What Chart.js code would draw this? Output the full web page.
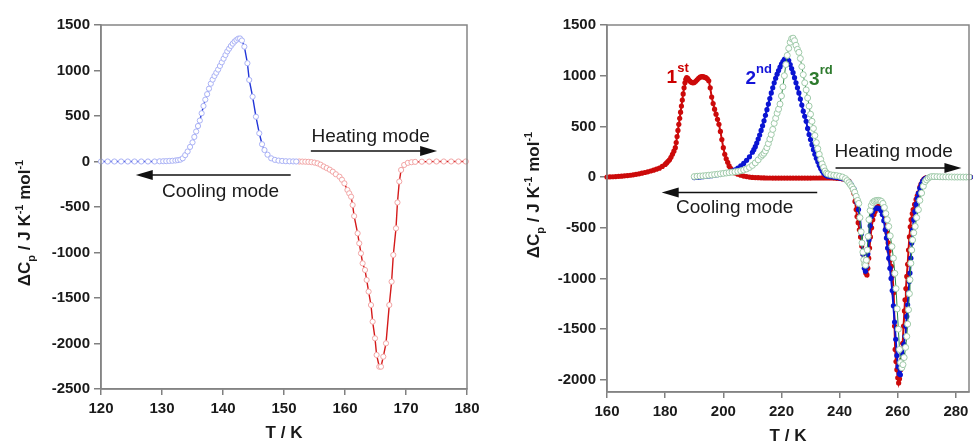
<!DOCTYPE html>
<html>
<head>
<meta charset="utf-8">
<script src="https://cdn.jsdelivr.net/npm/chart.js@4.4.1/dist/chart.umd.min.js"></script>
<style>
body { margin: 0; background: #fff; }
#wrap { position: relative; width: 974px; height: 445px; }
canvas { position: absolute; top: 0; }
</style>
</head>
<body>
<div id="wrap">
<canvas id="chart-left" width="487" height="445" style="left:0"></canvas>
<canvas id="chart-right" width="487" height="445" style="left:487px"></canvas>
</div>
<script>
var FONT = "'Liberation Sans', Arial, sans-serif";

// ---- left panel : cooling (blue) then heating (red)
var coolT = [120, 121.1, 122.2, 123.3, 124.4, 125.5, 126.6, 127.7, 128.8,
	129.6, 130.2, 130.7, 131.2, 131.7, 132.2, 132.6, 133.0,
	133.4, 133.8, 134.2, 134.6, 135.0,
	135.3, 135.6, 135.9, 136.2, 136.5, 136.8, 137.1, 137.4, 137.7, 138.0,
	138.3, 138.6, 138.9, 139.2, 139.5, 139.8, 140.1, 140.4, 140.7, 141.0,
	141.3, 141.6, 141.9, 142.2, 142.5, 142.8,
	143.1, 143.5, 144.0, 144.3, 144.85, 145.4, 145.95, 146.4, 146.8, 147.3, 147.9,
	148.5, 149.1, 149.7, 150.3, 150.9, 151.5, 152.0];
var coolCp = [0, 0, 0, 0, 0, 0, 0, 0, 0,
	2, 3, 4, 6, 8, 11, 15, 20,
	35, 70, 110, 160, 210,
	270, 330, 390, 450, 530, 610, 680, 740, 800, 855,
	900, 940, 975, 1010, 1050, 1090, 1130, 1170, 1210, 1240,
	1270, 1295, 1318, 1336, 1350, 1352,
	1330, 1262, 1080, 896, 712, 492, 310, 190, 126, 75, 35,
	18, 10, 6, 3, 2, 1, 0];

var heatT = [152.5, 153.0, 153.5, 154.0, 154.5,
	155.0, 155.5, 156.0, 156.5, 157.0, 157.5, 158.0, 158.5,
	159.1, 159.5, 159.9, 160.4, 160.7, 161.0, 161.25, 161.5,
	162.07, 162.34, 162.62, 162.89, 163.28, 163.55, 163.87, 164.26, 164.53, 164.92, 165.18, 165.62,
	165.9, 166.28, 166.72, 167.26, 167.64, 167.92, 168.36, 168.6, 168.9, 169.2, 169.7,
	170.3, 170.9, 171.5, 172.6, 173.8, 175.0, 176.2, 177.4, 178.6, 179.8];
var heatCp = [0, -1, -2, -4, -7,
	-12, -20, -35, -55, -72, -90, -112, -140,
	-167, -200, -240, -313, -350, -387, -478, -600,
	-789, -899, -1009, -1119, -1192, -1302, -1430, -1577, -1760, -1943, -2126, -2255,
	-2255, -2145, -1998, -1577, -1321, -1027, -734, -450, -220, -93, -38,
	-15, -8, -4, -2, -1, 0, 0, 0, 0, 0];

var leftXTicks = [120, 130, 140, 150, 160, 170, 180];
var leftYTicks = [-2500, -2000, -1500, -1000, -500, 0, 500, 1000, 1500];

// ---- right panel : three runs
var run1T = [160, 161, 162, 163, 164, 165, 166, 167, 168, 169, 170, 171, 172, 173, 174, 175, 176, 177, 178, 179, 180,
	180.5, 181, 181.5, 182, 182.5, 183, 183.5,
	183.8, 184.1, 184.4, 184.7, 185, 185.3, 185.6, 185.9, 186.2, 186.5, 186.8, 187.1, 187.4,
	187.8, 188.2, 188.6, 189,
	189.5, 190, 190.5, 191, 191.5, 192, 192.5, 193, 193.5, 194, 194.5, 195, 195.5, 196, 196.5,
	197, 197.5, 198, 198.5, 199, 199.5, 200, 200.5, 201, 201.5, 202, 202.5, 203, 203.5, 204,
	205, 206, 207, 208, 209, 210, 211, 212, 213, 214, 215, 216, 217, 218, 219, 220, 221, 222, 223, 224,
	225, 226, 227, 228, 229, 230, 231, 232, 233, 234,
	235, 236, 237, 238, 239, 240, 241, 242,
	242.6, 243.2, 243.7, 244.2, 244.6, 244.9,
	245.3, 245.7, 246, 246.4, 246.8, 247.2, 247.6, 248, 248.3, 248.7, 249, 249.4,
	249.7, 250, 250.3, 250.6, 251, 251.4, 251.8, 252.2, 252.6, 253, 253.4, 253.8, 254.2, 254.6,
	255.2, 255.6, 256, 256.3, 256.7, 257, 257.4, 257.8, 258.2, 258.6,
	258.9, 259.1, 259.4, 259.7, 260, 260.3, 260.6, 261, 261.4, 261.7,
	262, 262.3, 262.5, 262.8, 263.1, 263.4, 263.7, 264, 264.3, 264.6,
	265, 265.3, 265.8, 266.3, 266.7, 267.1, 267.6, 268, 268.5, 269, 269.5, 270,
	271, 272, 273, 274, 275, 276, 277, 278, 279, 280, 281, 282, 283, 284, 285];
var run1Cp = [0, 2, 3, 5, 7, 9, 12, 15, 18, 22, 27, 32, 38, 45, 52, 60, 68, 78, 88, 105, 125,
	140, 155, 170, 195, 225, 255, 290,
	340, 400, 460, 520, 580, 640, 700, 760, 820, 880, 930, 965, 980,
	975, 955, 945, 935,
	930, 932, 945, 960, 975, 985, 990, 990, 985, 980, 970, 950, 880, 790, 725,
	670, 620, 570, 520, 450, 370, 290, 225, 180, 145, 110, 85, 65, 50, 40,
	28, 18, 10, 5, 0, -3, -5, -6, -7, -8, -9, -9, -10, -10, -10, -10, -10, -10, -10, -10,
	-10, -10, -10, -10, -10, -10, -9, -9, -9, -8,
	-8, -8, -9, -10, -12, -14, -18, -22,
	-28, -40, -70, -100, -130, -160,
	-240, -320, -390, -450, -520, -590, -680, -760, -820, -900, -945, -965,
	-900, -800, -700, -590, -500, -420, -370, -340, -310, -295, -290, -295, -305, -325,
	-370, -430, -500, -550, -650, -730, -820, -880, -970, -1140,
	-1470, -1700, -1820, -1900, -1980, -2030, -1990, -1900, -1800, -1640,
	-1470, -1320, -1210, -1100, -980, -860, -720, -590, -490, -420,
	-360, -320, -270, -220, -185, -155, -100, -70, -40, -20, -10, -5,
	-2, 0, 0, 0, 0, 0, 0, 0, 0, 0, 0, 0, 0, 0, 0];

var run2T = [190, 191, 192, 193, 194, 195, 196, 197, 198, 199, 200, 201, 202, 203, 204, 205, 206, 207, 208, 209, 210,
	210.5, 211, 211.5, 212, 212.5, 213, 213.5, 214, 214.5, 215,
	215.5, 216, 216.5, 217, 217.5, 218, 218.5, 219, 219.5, 220,
	220.5, 221, 221.5, 222, 222.5, 223, 223.5, 224, 224.5, 225,
	225.5, 226, 226.5, 227, 227.5, 228, 228.5, 229, 229.5, 230,
	230.5, 231, 231.5, 232, 232.5, 233, 233.5, 234, 234.5, 235,
	235.5, 236,
	237, 238, 239, 240, 241, 242, 243, 243.5, 244, 244.5, 245, 245.5, 246, 246.5, 247,
	247.5, 248, 248.5, 248.9, 249.3, 249.7, 250.1, 250.5, 250.9, 251.3, 251.7,
	252.2, 252.7, 253.2, 253.7, 254.2, 254.7, 255.2, 255.7, 256.1, 256.5, 256.9,
	257.3, 257.7, 258.1, 258.5, 258.9, 259.3, 259.7, 260.1, 260.5, 260.9,
	261.3, 261.7, 262.1, 262.5, 262.8, 263.1, 263.4, 263.7, 264, 264.2,
	264.5, 264.8, 265.1, 265.5, 265.9, 266.3, 266.7, 267.1, 267.6, 268.1,
	268.6, 269.1, 269.6, 270.2, 271, 272, 273, 274, 275, 276, 277, 278, 279, 280, 281, 282, 283, 284, 285];
var run2Cp = [-5, -3, 0, 3, 6, 10, 14, 18, 23, 28, 35, 42, 50, 60, 72, 88, 110, 135, 165, 200, 245,
	270, 300, 335, 375, 415, 460, 505, 555, 610, 665,
	720, 775, 830, 880, 930, 975, 1015, 1050, 1085, 1115,
	1140, 1160, 1172, 1170, 1150, 1110, 1070, 1030, 980, 930,
	880, 830, 770, 710, 650, 600, 550, 480, 420, 370,
	320, 270, 225, 185, 150, 115, 85, 60, 40, 25,
	15, 8,
	3, 0, -5, -10, -15, -25, -40, -55, -75, -100, -120, -180, -250, -320, -400,
	-560, -760, -900, -930, -880, -760, -620, -480, -390, -345, -320,
	-310, -305, -305, -310, -330, -370, -430, -520, -600, -700, -800,
	-900, -1000, -1120, -1270, -1430, -1600, -1760, -1870, -1940, -1950,
	-1870, -1750, -1650, -1570, -1470, -1375, -1260, -1144, -1030, -947,
	-800, -650, -520, -420, -340, -270, -210, -160, -110, -70,
	-40, -22, -12, -6, -3, 0, 0, 0, 0, 0, 0, 0, 0, 0, 0, 0, 0, 0, 0];

var run3T = [190, 191, 192, 193, 194, 195, 196, 197, 198, 199, 200, 201, 202, 203, 204, 205, 206, 207, 208, 209, 210, 211, 212, 213,
	213.5, 214, 214.5, 215, 215.5, 216, 216.5, 217, 217.5, 218,
	218.5, 219, 219.5, 220, 220.5, 221, 221.5, 222, 222.5, 223,
	223.5, 224, 224.5, 225, 225.5, 226, 226.5, 227, 227.5, 228,
	228.5, 229, 229.5, 230, 230.5, 231, 231.5, 232, 232.5, 233,
	233.5, 234, 234.5, 235, 235.5, 236,
	237, 238, 239, 240, 241, 242, 242.6, 243.2, 243.7, 244.2, 244.7, 245.2, 245.7, 246.2, 246.6,
	247, 247.4, 247.7, 248, 248.3, 248.6, 248.9, 249.2, 249.5, 249.8,
	250.1, 250.5, 250.9, 251.4, 251.9, 252.4, 252.9, 253.4, 253.9, 254.4,
	254.9, 255.4, 255.9, 256.4, 256.9, 257.4, 258, 258.5, 259, 259.4,
	259.8, 260.2, 260.6, 261, 261.4, 261.8, 262.2, 262.7, 263.1, 263.4,
	263.7, 264, 264.2, 264.5, 264.8, 265.1, 265.5, 266, 266.5, 267.1,
	267.6, 268.2, 268.8, 269.4, 269.9, 270.5, 271.1, 271.7, 272.5, 273.5,
	274.5, 275.5, 276.5, 277.5, 278.5, 279.5, 280.5, 281.5, 282.5, 283.5, 284.5];
var run3Cp = [5, 8, 10, 12, 15, 18, 21, 25, 28, 32, 36, 40, 44, 48, 52, 56, 62, 70, 80, 95, 115, 140, 170, 205,
	220, 235, 258, 290, 330, 375, 420, 470, 530, 580,
	630, 670, 720, 800, 890, 1000, 1110, 1200, 1270, 1330,
	1365, 1370, 1345, 1300, 1260, 1230, 1170, 1090, 1010, 930,
	860, 780, 700, 620, 550, 480, 410, 340, 280, 225,
	175, 130, 95, 60, 40, 30,
	22, 18, 14, 8, 0, -15, -35, -55, -75, -95, -120, -150, -190, -230, -260,
	-400, -540, -650, -740, -816, -860, -870, -820, -720, -585,
	-420, -330, -280, -250, -238, -232, -230, -230, -233, -240,
	-260, -300, -360, -420, -487, -580, -685, -800, -950, -1100,
	-1300, -1500, -1700, -1830, -1880, -1850, -1780, -1680, -1572, -1450,
	-1309, -1150, -1013, -850, -720, -620, -550, -487, -400, -322,
	-230, -158, -90, -45, -27, -10, 0, 5, 5, 4,
	3, 2, 2, 1, 1, 0, 0, 0, 0, 0, 0];

var rightXTicks = [160, 180, 200, 220, 240, 260, 280];
var rightYTicks = [-2000, -1500, -1000, -500, 0, 500, 1000, 1500];

var yTitleParts = [['\u0394C', 17, 0], ['p', 11, -5], [' / J K', 17, 0], ['-1', 11, 7], [' mol', 17, 0], ['-1', 11, 7]];

function pts(xs, ys) {
	return xs.map(function (x, i) { return {x: x, y: ys[i]}; });
}

// parts: [text, size, baseline shift]
function drawParts(ctx, parts, x, y, centered, weight) {
	var w = 0;
	parts.forEach(function (p) {
		ctx.font = weight + ' ' + p[1] + 'px ' + FONT;
		w += ctx.measureText(p[0]).width;
	});
	var cx = centered ? x - w / 2 : x;
	ctx.textAlign = 'left';
	ctx.textBaseline = 'alphabetic';
	parts.forEach(function (p) {
		ctx.font = weight + ' ' + p[1] + 'px ' + FONT;
		ctx.fillText(p[0], cx, y - p[2]);
		cx += ctx.measureText(p[0]).width;
	});
}

function extras(cfg) {
	return {
		id: 'extras',
		afterDraw: function (chart) {
			var ctx = chart.ctx, a = chart.chartArea;
			var sx = chart.scales.x, sy = chart.scales.y;
			ctx.save();
			ctx.strokeStyle = '#858585';
			ctx.lineWidth = 1.5;
			ctx.strokeRect(a.left, a.top, a.right - a.left, a.bottom - a.top);

			ctx.save();
			ctx.translate(cfg.titleX, cfg.titleY);
			ctx.rotate(-Math.PI / 2);
			ctx.fillStyle = '#1a1a1a';
			drawParts(ctx, yTitleParts, 0, 6, true, 'bold');
			ctx.restore();

			ctx.fillStyle = '#1a1a1a';
			cfg.notes.forEach(function (n) {
				ctx.font = '19px ' + FONT;
				ctx.textAlign = 'center';
				ctx.textBaseline = 'middle';
				ctx.fillText(n.text, sx.getPixelForValue(n.x), sy.getPixelForValue(n.y));
			});

			cfg.arrows.forEach(function (r) {
				var x1 = sx.getPixelForValue(r.from), x2 = sx.getPixelForValue(r.to), y = sy.getPixelForValue(r.y);
				var dir = x2 > x1 ? 1 : -1;
				ctx.strokeStyle = '#111';
				ctx.fillStyle = '#111';
				ctx.lineWidth = 1.5;
				ctx.beginPath();
				ctx.moveTo(x1, y);
				ctx.lineTo(x2 - dir * 14, y);
				ctx.stroke();
				ctx.beginPath();
				ctx.moveTo(x2, y);
				ctx.lineTo(x2 - dir * 17, y - 5);
				ctx.lineTo(x2 - dir * 17, y + 5);
				ctx.closePath();
				ctx.fill();
			});

			(cfg.ordinals || []).forEach(function (o) {
				ctx.fillStyle = o.color;
				drawParts(ctx, o.parts, sx.getPixelForValue(o.x), sy.getPixelForValue(o.y), false, 'bold');
			});
			ctx.restore();
		}
	};
}

function axisX(min, max, ticks, height, pad) {
	return {
		type: 'linear', min: min, max: max,
		afterBuildTicks: function (s) { s.ticks = ticks.map(function (v) { return {value: v}; }); },
		afterFit: function (s) { s.height = height; },
		ticks: {
			color: '#1a1a1a', padding: 5, maxRotation: 0, autoSkip: false,
			font: {family: FONT, size: 15, weight: 'bold'},
			callback: function (v) { return String(v); }
		},
		grid: {drawOnChartArea: false, tickLength: 6, color: '#808080', lineWidth: 1.5},
		border: {color: '#808080', width: 1.5},
		title: {
			display: true, text: 'T / K', color: '#1a1a1a',
			font: {family: FONT, size: 17, weight: 'bold', lineHeight: 1},
			padding: {top: 0, bottom: pad}
		}
	};
}

function axisY(min, max, ticks, width) {
	return {
		type: 'linear', min: min, max: max,
		afterBuildTicks: function (s) { s.ticks = ticks.map(function (v) { return {value: v}; }); },
		afterFit: function (s) { s.width = width; },
		ticks: {
			color: '#1a1a1a', padding: 4,
			font: {family: FONT, size: 15, weight: 'bold'},
			callback: function (v) { return String(v); }
		},
		grid: {drawOnChartArea: false, tickLength: 7, color: '#808080', lineWidth: 1.5},
		border: {color: '#808080', width: 1.5}
	};
}

var baseOptions = function (xs, ys, padRight) {
	return {
		responsive: false,
		animation: false,
		devicePixelRatio: 1,
		layout: {padding: {left: 0, right: padRight, top: 25, bottom: 0}},
		plugins: {legend: {display: false}, tooltip: {enabled: false}},
		elements: {line: {tension: 0}},
		scales: {x: xs, y: ys}
	};
};

new Chart(document.getElementById("chart-left"), {
	type: 'line',
	data: {
		datasets: [{
			label: 'Cooling',
			data: pts(coolT, coolCp),
			borderColor: '#2236d8', borderWidth: 1.4,
			pointRadius: 2.6, pointBorderWidth: 1,
			pointBorderColor: '#a9b1f5', pointBackgroundColor: '#ffffff',
			clip: false
		}, {
			label: 'Heating',
			data: pts(heatT, heatCp),
			borderColor: '#d41a1a', borderWidth: 1.4,
			pointRadius: 2.6, pointBorderWidth: 1,
			pointBorderColor: '#f2a5a5', pointBackgroundColor: '#ffffff',
			clip: false
		}]
	},
	options: baseOptions(axisX(120, 180, leftXTicks, 56, 3), axisY(-2500, 1500, leftYTicks, 101), 20),
	plugins: [extras({
		titleX: 24, titleY: 223,
		notes: [{text: 'Heating mode', x: 164.2, y: 272}, {text: 'Cooling mode', x: 139.6, y: -332}],
		arrows: [{from: 154.4, to: 175.1, y: 115}, {from: 151.1, to: 125.7, y: -148}]
	})]
});

new Chart(document.getElementById("chart-right"), {
	type: 'line',
	data: {
		datasets: [{
			label: '3rd',
			data: pts(run3T, run3Cp),
			order: 0,
			borderColor: '#2e8b46', borderWidth: 1,
			pointRadius: 3, pointBorderWidth: 1,
			pointBorderColor: '#9fcaa9', pointBackgroundColor: '#ffffff',
			clip: false
		}, {
			label: '2nd',
			data: pts(run2T, run2Cp),
			order: 1,
			borderColor: '#0a14d2', borderWidth: 2,
			pointRadius: 2.6, pointBorderWidth: 0,
			pointBackgroundColor: '#0a14d2',
			clip: false
		}, {
			label: '1st',
			data: pts(run1T, run1Cp),
			order: 2,
			borderColor: '#cc0a0a', borderWidth: 2,
			pointRadius: 2.6, pointBorderWidth: 0,
			pointBackgroundColor: '#cc0a0a',
			clip: false
		}]
	},
	options: baseOptions(axisX(160, 284.5, rightXTicks, 53, 0), axisY(-2120, 1500, rightYTicks, 120), 4),
	plugins: [extras({
		titleX: 46, titleY: 195,
		notes: [{text: 'Heating mode', x: 258.6, y: 252}, {text: 'Cooling mode', x: 203.9, y: -306}],
		arrows: [{from: 238.6, to: 281.9, y: 89}, {from: 232.3, to: 178.8, y: -152}],
		ordinals: [
			{parts: [['1', 19, 0], ['st', 13, 11]], x: 180.5, y: 925, color: '#cc0000'},
			{parts: [['2', 19, 0], ['nd', 13, 11]], x: 207.6, y: 920, color: '#1414d8'},
			{parts: [['3', 19, 0], ['rd', 13, 11]], x: 229.5, y: 912, color: '#2d7a2d'}
		]
	})]
});
</script>
</body>
</html>
